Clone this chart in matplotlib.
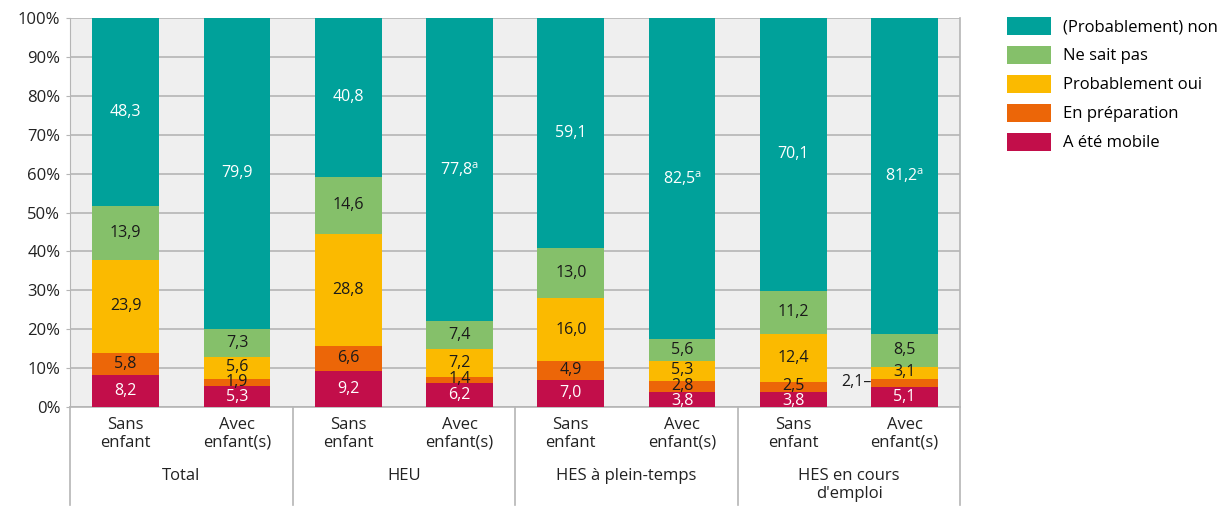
import matplotlib
matplotlib.use("Agg")
import matplotlib.pyplot as plt
import numpy as np

plt.rcParams['font.family'] = ['Open Sans', 'DejaVu Sans']
plt.rcParams['mathtext.fontset'] = 'custom'
plt.rcParams['mathtext.rm'] = 'Open Sans'

groups = ['Total', 'HEU', 'HES à plein-temps', "HES en cours\nd'emploi"]
subcats = ['Sans\nenfant', 'Avec\nenfant(s)'] * 4
series = ['A été mobile', 'En préparation', 'Probablement oui', 'Ne sait pas', '(Probablement) non']
mobile = [8.2, 5.3, 9.2, 6.2, 7.0, 3.8, 3.8, 5.1]
prepa = [5.8, 1.9, 6.6, 1.4, 4.9, 2.8, 2.5, 2.1]
oui = [23.9, 5.6, 28.8, 7.2, 16.0, 5.3, 12.4, 3.1]
nsp = [13.9, 7.3, 14.6, 7.4, 13.0, 5.6, 11.2, 8.5]
non = [48.3, 79.9, 40.8, 77.8, 59.1, 82.5, 70.1, 81.2]
sup_a = [False, False, False, True, False, True, False, True]

colors = ['#c20e4a', '#ec6608', '#fbba00', '#85c06a', '#00a19a']
txtcol = ['white', '#1a1a1a', '#1a1a1a', '#1a1a1a', 'white']

fig = plt.figure(figsize=(12.31, 5.09), dpi=100)
ax = fig.add_axes([0.0569, 0.2004, 0.7232, 0.7642])
ax.set_facecolor('#efefef')

x = np.arange(8)
data = [mobile, prepa, oui, nsp, non]
bottom = np.zeros(8)
for k, vals in enumerate(data):
    vals = np.array(vals)
    ax.bar(x, vals, 0.6, bottom=bottom, color=colors[k], label=series[k], zorder=3)
    for i in range(8):
        lab = f"{vals[i]:.1f}".replace('.', ',')
        if k == 4 and sup_a[i]:
            lab += r"$^{\mathrm{a}}$"
        yc = bottom[i] + vals[i] / 2
        # petits segments : on decale un peu pour limiter le chevauchement
        if k == 0 and vals[i] < 4.5:
            yc -= 0.3
        if k == 1 and vals[i] < 3:
            yc += 0.3
        if k == 2 and vals[i] < 6:
            yc += 0.3
        if k == 1 and i == 7:
            ax.text(x[i] - 0.3, yc, lab + '–', ha='right', va='center', fontsize=11.5, color='#1a1a1a', zorder=4)
            continue
        ax.text(x[i], yc, lab, ha='center', va='center', fontsize=11.5, color=txtcol[k], zorder=4)
    bottom += vals

ax.set_xlim(-0.5, 7.5)
ax.set_ylim(0, 100)
ax.set_yticks(np.arange(0, 101, 10))
ax.set_yticklabels([f"{v}%" for v in range(0, 101, 10)], fontsize=12, color='#222222')
ax.yaxis.grid(True, color='#b5b5b5', linewidth=1.2, zorder=0)
ax.tick_params(axis='y', length=3, color='#b5b5b5', pad=4)
ax.set_xticks([])
for s in ['top', 'right']:
    ax.spines[s].set_visible(False)
ax.spines['left'].set_color('#b5b5b5')
ax.spines['bottom'].set_color('#b5b5b5')
ax.spines['bottom'].set_linewidth(1.2)

trans = ax.get_xaxis_transform()
for xs in [-0.5, 1.5, 3.5, 5.5, 7.5]:
    ax.plot([xs, xs], [1.0 if xs == 7.5 else 0, -0.252], transform=trans, color='#b5b5b5',
            linewidth=1.2, clip_on=False)
for i in range(8):
    ax.text(x[i], -0.026, subcats[i], transform=trans, ha='center', va='top', fontsize=12,
            color='#222222', linespacing=1.15)
for g in range(4):
    ax.text(2 * g + 0.5, -0.157, groups[g], transform=trans, ha='center', va='top', fontsize=12,
            color='#222222', linespacing=1.15)

handles, labels = ax.get_legend_handles_labels()
fig.legend(handles[::-1], labels[::-1], loc='upper left', bbox_to_anchor=(0.806, 0.997),
           frameon=False, fontsize=12, handlelength=2.6, handleheight=1.3,
           labelspacing=0.62, handletextpad=0.75)

fig.savefig('out.png', dpi=100)
